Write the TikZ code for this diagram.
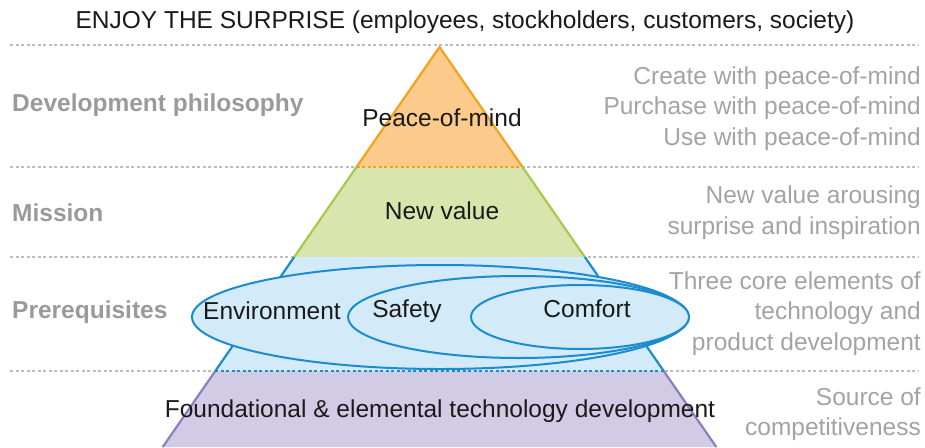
\documentclass[tikz,border=0pt]{standalone}
\usepackage{fontspec}
\setmainfont{Liberation Sans}
\definecolor{orangefill}{HTML}{FCCB8C}
\definecolor{orangeline}{HTML}{F2A21C}
\definecolor{greenfill}{HTML}{D8E6AE}
\definecolor{greenline}{HTML}{A8C84E}
\definecolor{bluefill}{HTML}{D3EAF8}
\definecolor{blueline}{HTML}{1C8CD0}
\definecolor{purplefill}{HTML}{D1CBE5}
\definecolor{purpleline}{HTML}{8A80C0}
\definecolor{guidegray}{HTML}{BDBDBD}
\definecolor{labelgray}{HTML}{9A9A9A}
\definecolor{notegray}{HTML}{A3A3A3}
\definecolor{ink}{HTML}{1A1A1A}
\begin{document}
\begin{tikzpicture}[x=1pt,y=-1pt,
  every node/.style={font=\fontsize{24.5}{30.5}\selectfont, inner sep=0pt, text=ink},
  guide/.style={draw=guidegray, line width=1.6pt, dash pattern=on 3pt off 2.5pt},
  side/.style={line width=2.2pt, line join=round},
  seam/.style={line width=2.2pt, dash pattern=on 3pt off 2.5pt},
  ell/.style={fill=bluefill, draw=blueline, line width=2pt},
  leftlabel/.style={anchor=west, font=\bfseries\fontsize{24.5}{30.5}\selectfont, text=labelgray},
  note/.style={anchor=east, align=right, text=notegray}]
\useasboundingbox (0,0) rectangle (925,447);
% guide lines
\foreach \y/\n in {45/a,167/b,257/c,371/d}{
  \coordinate (gl\n) at (10,\y);
  \coordinate (gr\n) at (918,\y);
  \draw[guide] (gl\n) -- (gr\n);
}
% pyramid corners
\coordinate (apex) at (439.5,47);
\coordinate (obl) at (356.5,167);
\coordinate (obr) at (522.5,167);
\coordinate (gbl) at (294.2,257);
\coordinate (gbr) at (584.8,257);
\coordinate (bbl) at (215.3,371);
\coordinate (bbr) at (663.7,371);
\coordinate (pbl) at (162.7,447);
\coordinate (pbr) at (716.3,447);
% orange layer
\fill[orangefill] (apex) -- (obl) -- (obr) -- cycle;
\draw[side, orangeline] (obl) -- (apex) -- (obr);
% green layer
\fill[greenfill] (obl) -- (obr) -- (gbr) -- (gbl) -- cycle;
\draw[side, greenline] (obl) -- (gbl);
\draw[side, greenline] (obr) -- (gbr);
\draw[seam, orangeline] (obl) -- (obr);
% blue layer
\fill[bluefill] (gbl) -- (gbr) -- (bbr) -- (bbl) -- cycle;
\draw[side, blueline] (gbl) -- (bbl);
\draw[side, blueline] (gbr) -- (bbr);
% purple layer
\fill[purplefill] (bbl) -- (bbr) -- (pbr) -- (pbl) -- cycle;
\draw[side, purpleline] (bbl) -- (pbl);
\draw[side, purpleline] (bbr) -- (pbr);
\draw[seam, blueline] (bbl) -- (bbr);
% ellipses
\draw[ell] (440,317) ellipse [x radius=248, y radius=52];
\draw[ell] (518.5,317) ellipse [x radius=170.5, y radius=41];
\draw[ell] (580,317) ellipse [x radius=109, y radius=32];
% texts
\node (title) at (465,22) {ENJOY THE SURPRISE (employees, stockholders, customers, society)};
\node (peace) at (442,118) {Peace-of-mind};
\node (newvalue) at (442,211) {New value};
\node (env) at (272,311) {Environment};
\node (safety) at (407,311) {Safety};
\node (comfort) at (587,309) {Comfort};
\node (found) at (440,411) {Foundational \& elemental technology development};
\node[leftlabel] (philo) at (12,105) {Development philosophy};
\node[leftlabel] (mission) at (12,213) {Mission};
\node[leftlabel] (prereq) at (12,312) {Prerequisites};
\node[note] (n1) at (921,108.5) {Create with peace-of-mind\\Purchase with peace-of-mind\\Use with peace-of-mind};
\node[note] (n2) at (921,212.5) {New value arousing\\surprise and inspiration};
\node[note] (n3) at (921,313.5) {Three core elements of\\technology and\\product development};
\node[note] (n4) at (921,414) {Source of\\competitiveness};
\end{tikzpicture}
\end{document}
